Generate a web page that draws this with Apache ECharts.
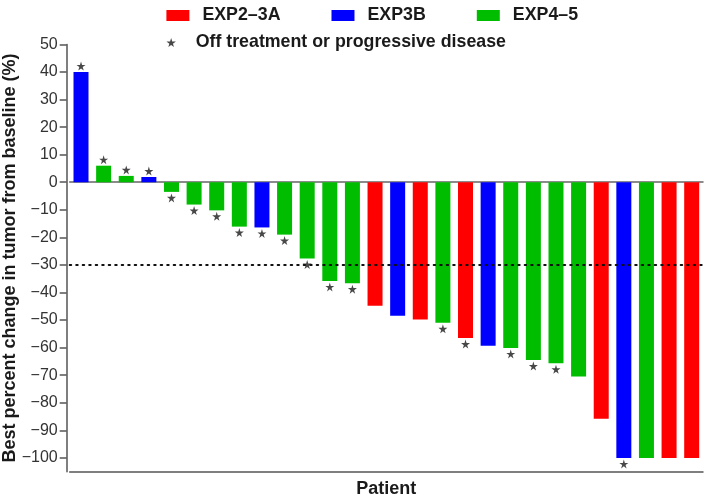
<!DOCTYPE html>
<html><head><meta charset="utf-8">
<script src="https://cdn.jsdelivr.net/npm/echarts@6/dist/echarts.min.js"></script>
<style>html,body{margin:0;padding:0;background:#fff}#c{width:709px;height:502px}</style>
</head><body><div id="c"></div>
<script>
const patients = Array.from({length: 28}, (_, i) => 'P' + (i + 1));
const changes = [40, 6, 2.3, 1.9, -3.5, -8.1, -10.2, -16.1, -16.4, -19, -27.7, -35.8, -36.6, -44.8, -48.4, -49.8, -51, -56.5, -59.3, -60.1, -64.5, -65.7, -70.5, -85.8, -100, -100, -100, -100];
const cohorts = ['EXP3B','EXP4–5','EXP4–5','EXP3B','EXP4–5','EXP4–5','EXP4–5','EXP4–5','EXP3B','EXP4–5','EXP4–5','EXP4–5','EXP4–5','EXP2–3A','EXP3B','EXP2–3A','EXP4–5','EXP2–3A','EXP3B','EXP4–5','EXP4–5','EXP4–5','EXP4–5','EXP2–3A','EXP3B','EXP4–5','EXP2–3A','EXP2–3A'];
const offTreatment = [1,1,1,1,1,1,1,1,1,1,1,1,1,0,0,0,1,1,0,1,1,1,0,0,1,0,0,0];
const cohortNames = ['EXP2–3A', 'EXP3B', 'EXP4–5'];
const cohortColors = ['#ff0000', '#0000ff', '#00bd00'];
const yTicks = [50, 40, 30, 20, 10, 0, -10, -20, -30, -40, -50, -60, -70, -80, -90, -100];
const threshold = -30;
const starName = 'Off treatment or progressive disease';

const starPath = 'path://M50,0 L61,35 L98,35 L68,57 L79,91 L50,70 L21,91 L32,57 L2,35 L39,35 Z';
const sans = "'Liberation Sans',Arial,Helvetica,sans-serif";

const barSeries = cohortNames.map((name, k) => ({
  name, type: 'bar', stack: 'all', barWidth: 15,
  itemStyle: {color: cohortColors[k]},
  data: changes.map((v, i) => cohorts[i] === name ? v : null),
  markLine: k === 0 ? {
    silent: true, symbol: 'none', label: {show: false},
    lineStyle: {color: '#111', width: 2, type: [1.5, 5], cap: 'round'},
    data: [{yAxis: threshold}]
  } : undefined
}));

const starSeries = {
  name: starName, type: 'scatter', symbol: starPath, symbolSize: 9,
  itemStyle: {color: '#1a1a1a'}, z: 5,
  data: changes.map((v, i) => offTreatment[i] ? {value: [i, v], symbolOffset: [0, v >= 0 ? -6 : 6]} : null).filter(d => d)
};

const legendText = {fontFamily: sans, fontWeight: 'bold', fontSize: 17.8, color: '#1a1a1a', lineHeight: 21, padding: [0, 0, 0, 8]};

const chart = echarts.init(document.getElementById('c'));
chart.setOption({
  animation: false,
  grid: {left: 69.7, right: 6, top: 44.4, bottom: 30.3, outerBoundsMode: 'none', containLabel: false},
  legend: [{
    data: cohortNames, left: 161.4, top: 0, itemWidth: 23, itemHeight: 11, itemGap: 51, icon: 'rect',
    textStyle: legendText
  }, {
    data: [starName], left: 161.4, top: 27, itemWidth: 23, itemHeight: 9,
    textStyle: legendText
  }],
  xAxis: [{
    type: 'category', data: patients, axisLine: {onZero: true, lineStyle: {color: '#666', width: 1.5}},
    axisTick: {show: false}, axisLabel: {show: false}
  }, {
    type: 'category', data: patients, position: 'bottom',
    axisLine: {onZero: false, lineStyle: {color: '#555', width: 1.5}},
    axisTick: {show: false}, axisLabel: {show: false},
    name: 'Patient', nameLocation: 'middle', nameGap: 8, nameMoveOverlap: false,
    nameTextStyle: {fontFamily: sans, fontWeight: 'bold', fontSize: 18, color: '#1a1a1a'}
  }],
  yAxis: {
    type: 'value', min: -105, max: 50, offset: 3,
    splitLine: {show: false},
    axisLine: {show: true, onZero: false, lineStyle: {color: '#555', width: 1.5}},
    axisTick: {show: true, length: 7, customValues: yTicks, lineStyle: {color: '#555', width: 1.5}},
    axisLabel: {customValues: yTicks, margin: 9, fontFamily: sans, fontSize: 16, color: '#333',
      formatter: v => String(v).replace('-', '−')},
    name: 'Best percent change in tumor from baseline (%)', nameLocation: 'middle', nameGap: 48, nameMoveOverlap: false,
    nameTextStyle: {fontFamily: sans, fontWeight: 'bold', fontSize: 18, color: '#1a1a1a'}
  },
  series: [...barSeries, starSeries]
});
</script></body></html>
